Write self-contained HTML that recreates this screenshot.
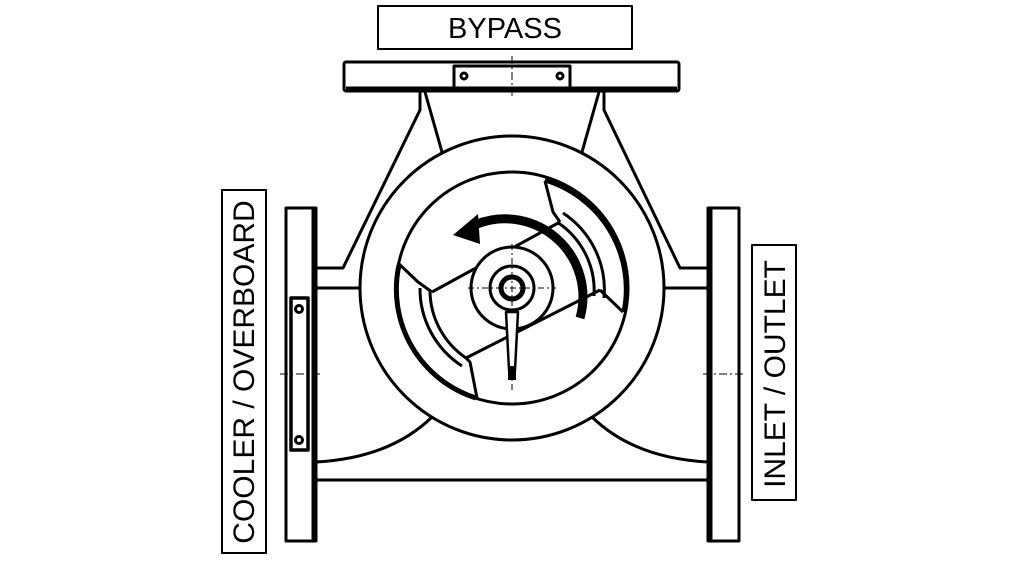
<!DOCTYPE html>
<html><head><style>html,body{margin:0;padding:0;background:#fff;}svg{display:block}</style></head>
<body>
<svg width="1024" height="576" viewBox="0 0 1024 576" xmlns="http://www.w3.org/2000/svg" font-family="Liberation Sans, sans-serif">
<g fill="none" stroke="#000" stroke-width="3" stroke-linejoin="round">
<!-- labels -->
<rect x="378" y="6" width="254" height="43" stroke-width="2"/>
<rect x="222" y="190" width="44" height="363" stroke-width="2"/>
<rect x="752" y="245" width="44" height="255" stroke-width="2"/>
<!-- top flange -->
<rect x="344" y="62" width="335" height="29" rx="2"/>
<line x1="346" y1="89" x2="677" y2="89" stroke-width="5"/>
<rect x="454" y="66" width="116" height="22" stroke-width="3"/>
<circle cx="464" cy="76" r="3" stroke-width="3"/>
<circle cx="560" cy="76" r="3" stroke-width="3"/>
<line x1="512" y1="56" x2="512" y2="99" stroke-width="1" stroke-dasharray="8,3,2,3"/>
<!-- legs -->
<polyline points="420,92 420,110 343,268 316,268"/>
<polyline points="604,92 604,110 680,268 708,268"/>
<line x1="425" y1="92" x2="442" y2="152"/>
<line x1="599" y1="92" x2="582" y2="152"/>
<line x1="316" y1="288" x2="360" y2="288"/>
<line x1="664" y1="288" x2="708" y2="288"/>
<line x1="316" y1="480" x2="708" y2="480"/>
<path d="M316,462 Q390,458 432,417"/>
<path d="M708,462 Q634,458 592,417"/>
<!-- left flange -->
<rect x="286" y="208" width="30" height="333" fill="#fff"/>
<line x1="314" y1="209" x2="314" y2="540" stroke-width="5"/>
<rect x="291" y="298" width="17" height="152" stroke-width="3.5"/>
<circle cx="299" cy="309" r="3.5"/>
<circle cx="299" cy="440" r="3.5"/>
<line x1="280" y1="374" x2="322" y2="374" stroke-width="1" stroke-dasharray="8,3,2,3"/>
<!-- right flange -->
<rect x="708" y="208" width="31" height="333" fill="#fff"/>
<line x1="710" y1="209" x2="710" y2="540" stroke-width="5"/>
<line x1="703" y1="374" x2="745" y2="374" stroke-width="1" stroke-dasharray="8,3,2,3"/>
<!-- body circles -->
<circle cx="512" cy="288" r="152" fill="#fff"/>
<circle cx="512" cy="288" r="116"/>
<path d="M545,180 A114,114 0 0 1 624,312" stroke-width="5"/>
<path d="M399,265 A114,114 0 0 0 476,398" stroke-width="5"/>
<path d="M557,222 A82,82 0 0 1 594,296"/>
<path d="M563,213 A92,92 0 0 1 604,298"/>
<path d="M430,290 A82,82 0 0 0 466,358"/>
<path d="M420,288 A92,92 0 0 0 462,366"/>
<polyline points="545,181 553,212 560,222"/>
<polyline points="398,263 418,282 432,292"/>
<line x1="432" y1="292" x2="560" y2="222"/>
<polyline points="623,312 600,290"/>
<polyline points="477,398 470,362 466,358"/>
<line x1="466" y1="358" x2="600" y2="290"/>
<!-- hub -->
<circle cx="512" cy="288" r="41" fill="#fff"/>
<circle cx="512" cy="288" r="22"/>
<circle cx="512" cy="288" r="11" stroke-width="5"/>
<line x1="468" y1="288" x2="556" y2="288" stroke-width="1" stroke-dasharray="6,3,2,3"/>
<line x1="512" y1="244" x2="512" y2="392" stroke-width="1" stroke-dasharray="6,3,2,3"/>
<path d="M506,312 L518,312 L515,370 L509,370 Z" fill="#fff" stroke-width="2.5"/>
<rect x="508" y="366" width="8" height="14" fill="#000" stroke="none"/>
<path d="M477,224 A78,78 0 0 1 580,318" stroke-width="9" stroke-linecap="butt"/>
</g>
<polygon points="453,235 478,214 480,244" fill="#000"/>
<text x="505" y="38" font-size="29" text-anchor="middle">BYPASS</text>
<text transform="translate(254,372) rotate(-90)" font-size="30" text-anchor="middle">COOLER / OVERBOARD</text>
<text transform="translate(785,374) rotate(-90)" font-size="30" text-anchor="middle">INLET / OUTLET</text>
</svg>
</body></html>
